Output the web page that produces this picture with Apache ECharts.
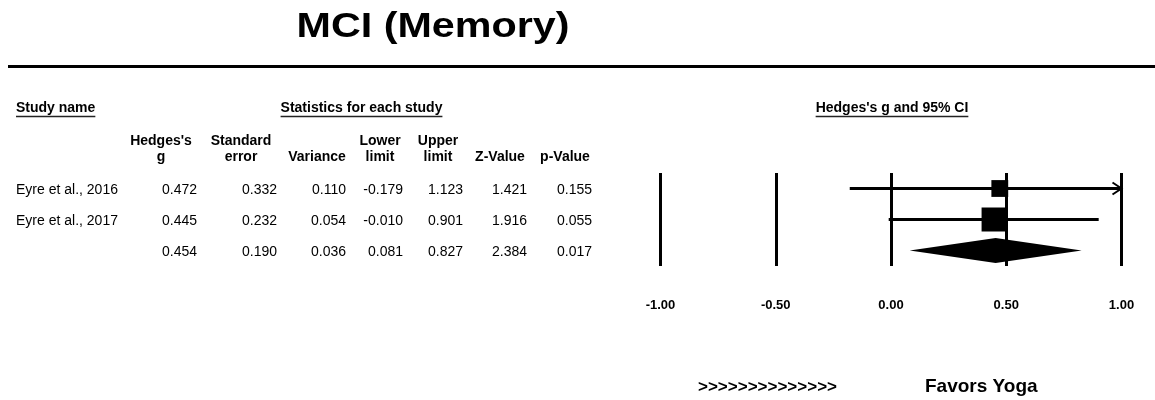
<!DOCTYPE html>
<html>
<head>
<meta charset="utf-8">
<title>MCI (Memory)</title>
<script src="https://cdn.jsdelivr.net/npm/echarts@6/dist/echarts.min.js"></script>
<style>
  html, body { margin: 0; padding: 0; background: #ffffff; }
  #chart { width: 1155px; height: 400px; }
</style>
</head>
<body>
<div id="chart"></div>
<script>
// Study-level statistics (last row is the pooled estimate)
const studyNames = ['Eyre et al., 2016', 'Eyre et al., 2017', ''];
const hedgesG = [0.472, 0.445, 0.454];
const stdError = [0.332, 0.232, 0.190];
const variance = [0.110, 0.054, 0.036];
const lowerLimit = [-0.179, -0.010, 0.081];
const upperLimit = [1.123, 0.901, 0.827];
const zValue = [1.421, 1.916, 2.384];
const pValue = [0.155, 0.055, 0.017];
const isSummary = [false, false, true];

// Effect-size axis
const axisMin = -1;
const axisMax = 1;
const axisStep = 0.5;

const FONT = '"Liberation Sans", Arial, Helvetica, sans-serif';
const chart = echarts.init(document.getElementById('chart'), null, { renderer: 'canvas' });

const measureCtx = document.createElement('canvas').getContext('2d');
function textWidth(text, font) {
  measureCtx.font = font;
  return measureCtx.measureText(text).width;
}

function txt(text, x, y, opts) {
  const o = opts || {};
  const font = (o.bold ? 'bold ' : '') + (o.size || 14) + 'px ' + FONT;
  return {
    type: 'text',
    x: x, y: y,
    scaleX: o.scaleX || 1,
    silent: true,
    style: {
      text: text, font: font, fill: '#000',
      align: o.align || 'left', textAlign: o.align || 'left',
      verticalAlign: 'middle', textVerticalAlign: 'middle'
    }
  };
}

// Underlined heading: text plus a rule under it
function underlined(text, x, y, align) {
  const font = 'bold 14px ' + FONT;
  const w = textWidth(text, font);
  let x0 = x;
  if (align === 'center') x0 = x - w / 2;
  return [
    txt(text, x, y, { bold: true, align: align }),
    { type: 'line', silent: true,
      shape: { x1: x0, y1: y + 8.5, x2: x0 + w, y2: y + 8.5 },
      style: { stroke: '#222', lineWidth: 1.5 } }
  ];
}

const graphics = [];
graphics.push(txt('MCI (Memory)', 433, 27.5, { bold: true, size: 35, align: 'center', scaleX: 1.18 }));
graphics.push({ type: 'line', silent: true,
  shape: { x1: 8, y1: 66.5, x2: 1155, y2: 66.5 },
  style: { stroke: '#000', lineWidth: 3 } });

graphics.push(...underlined('Study name', 16, 108, 'left'));
graphics.push(...underlined('Statistics for each study', 361.5, 108, 'center'));
graphics.push(...underlined("Hedges's g and 95% CI", 892, 108, 'center'));

// Table columns: header lines, values, centre of header, right edge of values
const columns = [
  { head: ["Hedges's", 'g'], values: hedgesG, cx: 161, right: 197 },
  { head: ['Standard', 'error'], values: stdError, cx: 241, right: 277 },
  { head: ['', 'Variance'], values: variance, cx: 317, right: 346 },
  { head: ['Lower', 'limit'], values: lowerLimit, cx: 380, right: 403 },
  { head: ['Upper', 'limit'], values: upperLimit, cx: 438, right: 463 },
  { head: ['', 'Z-Value'], values: zValue, cx: 500, right: 527 },
  { head: ['', 'p-Value'], values: pValue, cx: 565, right: 592 }
];
const headY = [141, 157.5];
const rowY = [190.5, 221.5, 252];

columns.forEach(function (col) {
  col.head.forEach(function (h, k) {
    if (h) graphics.push(txt(h, col.cx, headY[k], { bold: true, align: 'center' }));
  });
  col.values.forEach(function (v, r) {
    graphics.push(txt(v.toFixed(3), col.right, rowY[r], { align: 'right' }));
  });
});
studyNames.forEach(function (name, r) {
  if (name) graphics.push(txt(name, 16, rowY[r], {}));
});

graphics.push(txt('>>>>>>>>>>>>>>', 698, 387, { bold: true, size: 17 }));
graphics.push(txt('Favors Yoga', 925, 387, { bold: true, size: 19 }));

// Forest plot rows: [row, estimate, lower, upper, weight, summary flag]
const maxWeight = Math.max.apply(null, variance.slice(0, 2).map(function (v) { return 1 / v; }));
const forestData = hedgesG.map(function (g, i) {
  return [i, g, lowerLimit[i], upperLimit[i], 1 / variance[i], isSummary[i] ? 1 : 0];
});

function renderRow(params, api) {
  const row = api.value(0);
  const est = api.value(1);
  const lo = api.value(2);
  const hi = api.value(3);
  const weight = api.value(4);
  const summary = api.value(5) === 1;
  const loC = Math.max(lo, axisMin);
  const hiC = Math.min(hi, axisMax);
  const pLo = api.coord([loC, row]);
  const pHi = api.coord([hiC, row]);
  const pEst = api.coord([est, row]);
  const y = pEst[1];
  const children = [];
  if (summary) {
    const h = 12.5;
    children.push({
      type: 'polygon',
      shape: { points: [[pLo[0], y], [pEst[0], y - h], [pHi[0], y], [pEst[0], y + h]] },
      style: { fill: '#000' }
    });
  } else {
    children.push({
      type: 'line',
      shape: { x1: pLo[0], y1: y, x2: pHi[0], y2: y },
      style: { stroke: '#000', lineWidth: 3 }
    });
    if (hi > axisMax) {
      children.push({
        type: 'polyline',
        shape: { points: [[pHi[0] - 9, y - 6], [pHi[0], y], [pHi[0] - 9, y + 6]] },
        style: { stroke: '#000', lineWidth: 2, fill: null }
      });
    }
    if (lo < axisMin) {
      children.push({
        type: 'polyline',
        shape: { points: [[pLo[0] + 9, y - 6], [pLo[0], y], [pLo[0] + 9, y + 6]] },
        style: { stroke: '#000', lineWidth: 2, fill: null }
      });
    }
    const size = 24 * Math.sqrt(weight / maxWeight);
    children.push({
      type: 'rect',
      shape: { x: pEst[0] - size / 2, y: y - size / 2, width: size, height: size },
      style: { fill: '#000' }
    });
  }
  return { type: 'group', children: children };
}

chart.setOption({
  backgroundColor: '#ffffff',
  animation: false,
  grid: { left: 660.5, right: 33.5, top: 173, height: 93, containLabel: false },
  xAxis: {
    type: 'value',
    min: axisMin, max: axisMax, interval: axisStep,
    axisLine: { show: false },
    axisTick: { show: false },
    splitLine: { show: true, showMinLine: true, showMaxLine: true,
      lineStyle: { color: '#000', width: 3, type: 'solid' } },
    axisLabel: {
      margin: 33,
      color: '#000',
      fontFamily: FONT, fontWeight: 'bold', fontSize: 13,
      formatter: function (v) { return v.toFixed(2); }
    }
  },
  yAxis: {
    type: 'category',
    inverse: true,
    data: hedgesG.map(function (_, i) { return String(i); }),
    show: false,
    axisLine: { show: false }, axisTick: { show: false }, axisLabel: { show: false },
    splitLine: { show: false }
  },
  series: [{
    type: 'custom',
    renderItem: renderRow,
    encode: { x: [1, 2, 3], y: 0 },
    data: forestData,
    clip: false,
    z: 3
  }],
  graphic: graphics
});
</script>
</body>
</html>
